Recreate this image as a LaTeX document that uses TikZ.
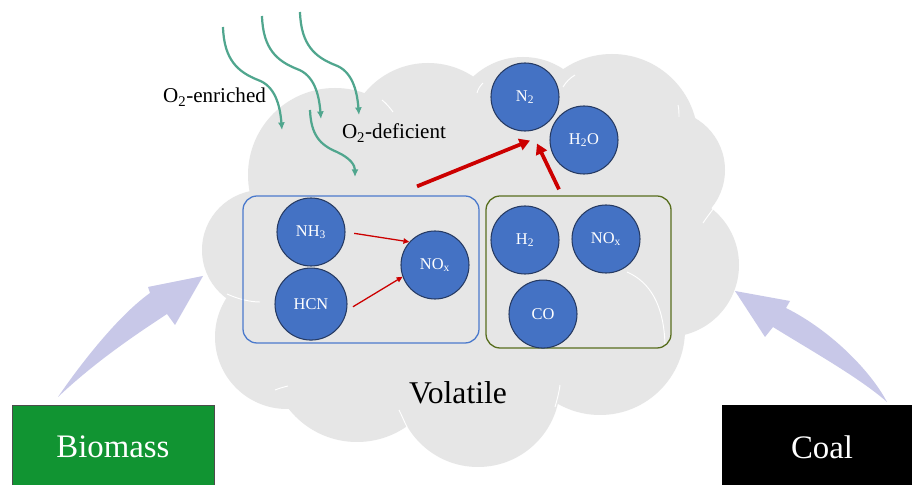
\documentclass[tikz,border=0pt]{standalone}
\usepackage{fontspec}
\setmainfont{Liberation Serif}
\usepackage{tikz}
\usetikzlibrary{arrows.meta, positioning, calc}

\definecolor{cloudgray}{RGB}{230,230,230}
\definecolor{gasblue}{RGB}{68,114,196}
\definecolor{gasedge}{RGB}{38,58,98}
\definecolor{boxblue}{RGB}{75,122,204}
\definecolor{boxolive}{RGB}{88,110,30}
\definecolor{nred}{RGB}{204,0,0}
\definecolor{o2teal}{RGB}{80,166,142}
\definecolor{arrowlav}{RGB}{200,200,232}
\definecolor{biogreen}{RGB}{17,148,50}

\begin{document}
\begin{tikzpicture}[x=0.03cm, y=-0.03cm,
    gas/.style={circle, fill=gasblue, draw=gasedge, line width=0.9pt, minimum size=2.04cm, inner sep=0pt, text=white, font=\fontsize{14}{15}\selectfont},
    group/.style={rectangle, rounded corners=12pt, line width=1.1pt, inner sep=0pt},
    source/.style={rectangle, inner sep=0pt, minimum width=6.06cm, minimum height=2.52cm, text=white, font=\fontsize{28}{30}\selectfont},
    lobe/.style={fill=cloudgray},
    seam/.style={draw=white, line width=0.8pt},
    feed/.style={-{Latex[length=6.5pt,width=6pt]}, draw=o2teal, line width=1.9pt},
    react/.style={-{Triangle[length=5pt,width=4.5pt]}, draw=nred, line width=1.1pt},
    merge/.style={-{Triangle[length=9pt,width=10pt]}, draw=nred, line width=3.2pt},
    supply/.style={fill=arrowlav}]
        \path[use as bounding box, fill=white] (0,0) rectangle (912,485);
        % cloud
        \foreach \cx/\cy/\r in {262/250/60, 287/337/72, 357/355/87, 478/385/82, 600/330/85, 667/265/72, 665/170/60, 612/140/86, 523/130/73, 428/145/82, 335/175/87, 470/270/150}
            \fill[lobe] (\cx,\cy) circle[radius=\r*0.03cm];
        \draw[seam] (227,294) .. controls (238,299) and (250,302) .. (260,302);
        \draw[seam] (275,390) .. controls (280,388) and (284,387) .. (288,386);
        \draw[seam] (399,410) .. controls (402,416) and (404,421) .. (407,427);
        \draw[seam] (560,385) .. controls (559,393) and (557,400) .. (555,407);
        \draw[seam] (627,272) .. controls (650,282) and (664,305) .. (665,345);
        \draw[seam] (703,223) .. controls (709,214) and (715,207) .. (720,200);
        \draw[seam] (678,105) .. controls (679,109) and (679,113) .. (679,117);
        \draw[seam] (382,100) .. controls (387,104) and (390,108) .. (393,112);
        \draw[seam] (477,93) .. controls (478,89) and (480,86) .. (483,83);
        \draw[seam] (563,87) .. controls (566,82) and (570,78) .. (575,75);

        % oxygen supply
        \foreach \dx/\dy in {0/0, 39/-11, 77/-15}
            \draw[feed, shift={(\dx,\dy)}] (223,27) .. controls (224,60) and (238,72) .. (258,80) .. controls (275,86) and (280,105) .. (282,130);
        \draw[feed] (310,110) .. controls (311,135) and (320,145) .. (337,152) .. controls (350,158) and (355,165) .. (355,177);
        \node[anchor=base, font=\fontsize{18}{20}\selectfont] (rich) at (214.5,103) {O\textsubscript{2}-enriched};
        \node[anchor=base, font=\fontsize{18}{20}\selectfont] (lean) at (394,139) {O\textsubscript{2}-deficient};

        % groups
        \node[group, draw=boxblue, minimum width=7.08cm, minimum height=4.41cm] (vbox) at (361,269.5) {};
        \node[group, draw=boxolive, minimum width=5.55cm, minimum height=4.56cm] (gbox) at (578.5,272) {};

        \node[gas] (nh3) at (311,232) {NH\textsubscript{3}};
        \node[gas, minimum size=2.16cm, below=0.03cm of nh3] (hcn) {HCN};
        \node[gas] (noxa) at (435,265) {NO\textsubscript{x}};
        \node[gas] (h2) at (525,240) {H\textsubscript{2}};
        \node[gas] (noxb) at (606,239) {NO\textsubscript{x}};
        \node[gas, below=0.15cm of h2, xshift=0.54cm] (co) {CO};
        \node[gas] (n2) at (525,97) {N\textsubscript{2}};
        \node[gas] (h2o) at (584,140) {H\textsubscript{2}O};

        \path (nh3.east) edge[react, shorten <=7.5pt] (noxa.138);
        \path (hcn.-10) edge[react, shorten <=6pt] (noxa.200);

        \coordinate (vrise) at ($(vbox.north)+(56,-9)$);
        \coordinate (grise) at ($(gbox.north)+(-19.5,-6)$);
        \coordinate (nsink) at ($(n2.south)+(5,9)$);
        \coordinate (gsink) at ($(n2.south)+(12,12)$);
        \path (vrise) edge[merge] (nsink);
        \path (grise) edge[merge] (gsink);

        \node[anchor=base, font=\fontsize{27}{30}\selectfont] (volatile) at (458,404) {Volatile};

        % fuels
        \fill[supply] (58,397) .. controls (75,372) and (115,318) .. (150,293) -- (148,287) -- (203,276) -- (175,325) -- (167,314) .. controls (135,335) and (95,362) .. (58,397) -- cycle;
        \fill[supply] (735,291) -- (790,301) -- (786,308) .. controls (830,330) and (870,370) .. (887,402) .. controls (860,378) and (810,350) .. (773,327) -- (765,337) -- cycle;
        \node[source, fill=biogreen, draw=black!70, line width=0.6pt] (biomass) at (113,447) {Biomass};
        \node[source, fill=black, minimum width=6cm] (coal) at (822,447) {Coal};
\end{tikzpicture}
\end{document}
